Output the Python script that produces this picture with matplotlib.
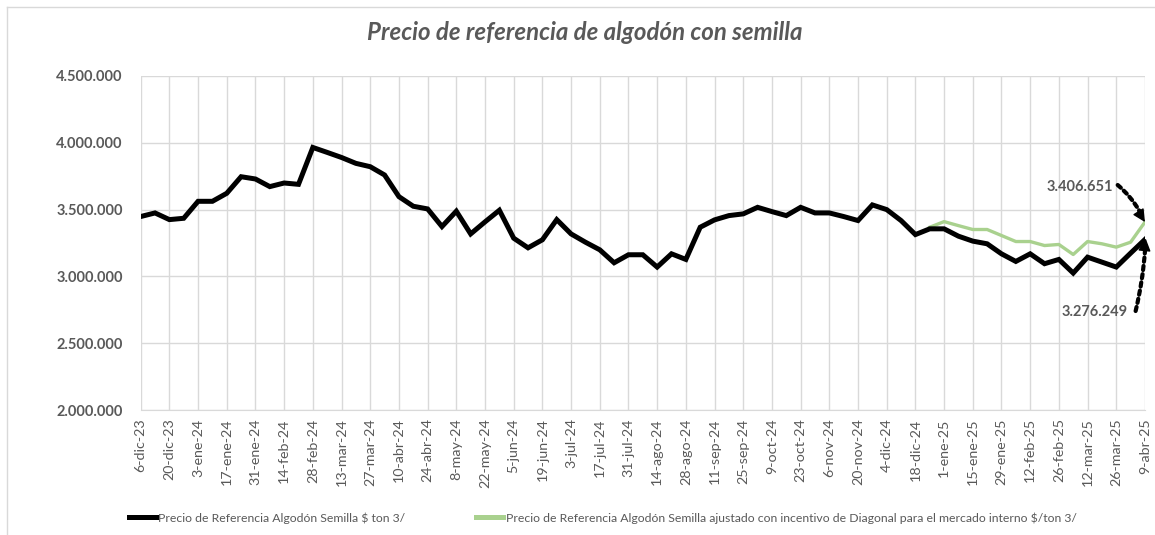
import numpy as np
import matplotlib.pyplot as plt
from matplotlib.lines import Line2D
from matplotlib.ticker import FuncFormatter

plt.rcParams['font.family'] = ['Lato', 'DejaVu Sans']

# weekly reference price, 6-dic-23 .. 9-abr-25 ($/ton)
precio = [3448, 3475, 3425, 3435, 3562, 3562, 3622, 3746, 3729, 3672,
          3699, 3689, 3965, 3928, 3890, 3846, 3821, 3759, 3597, 3525,
          3505, 3373, 3488, 3318, 3408, 3495, 3286, 3214, 3274, 3425,
          3318, 3256, 3199, 3102, 3162, 3162, 3070, 3169, 3127, 3368,
          3423, 3455, 3468, 3517, 3485, 3455, 3517, 3475, 3475, 3448,
          3418, 3535, 3500, 3418, 3313, 3356, 3356, 3301, 3264, 3244,
          3169, 3112, 3169, 3095, 3127, 3025, 3144, 3107, 3070, 3174,
          3276.249]
precio = np.array(precio) * 1000

# adjusted price with Diagonal incentive, starts at week 55
ajustado_inicio = 55
ajustado = [3368, 3410, 3380, 3351, 3351, 3306, 3261, 3261, 3231, 3239,
            3164, 3261, 3244, 3219, 3256, 3406.651]
ajustado = np.array(ajustado) * 1000

etiquetas = ['6-dic-23', '20-dic-23', '3-ene-24', '17-ene-24', '31-ene-24',
             '14-feb-24', '28-feb-24', '13-mar-24', '27-mar-24', '10-abr-24',
             '24-abr-24', '8-may-24', '22-may-24', '5-jun-24', '19-jun-24',
             '3-jul-24', '17-jul-24', '31-jul-24', '14-ago-24', '28-ago-24',
             '11-sep-24', '25-sep-24', '9-oct-24', '23-oct-24', '6-nov-24',
             '20-nov-24', '4-dic-24', '18-dic-24', '1-ene-25', '15-ene-25',
             '29-ene-25', '12-feb-25', '26-feb-25', '12-mar-25', '26-mar-25',
             '9-abr-25']

gris = '#595959'
verde = '#a9d18e'

def miles(v, p=None):
    return f'{v:,.0f}'.replace(',', '.')

def flecha(ax, desde, hasta, rad, punta):
    # dotted shaft + solid head
    ax.annotate('', xy=hasta, xytext=desde, annotation_clip=False,
                arrowprops=dict(arrowstyle='-', lw=3, ls=(0, (1, 1)),
                                color='black', shrinkA=0, shrinkB=8,
                                connectionstyle=f'arc3,rad={rad}'))
    ax.annotate('', xy=hasta, xytext=punta, textcoords='offset points',
                annotation_clip=False,
                arrowprops=dict(arrowstyle='-|>', lw=1, color='black',
                                mutation_scale=19, shrinkA=0, shrinkB=0))

fig = plt.figure(figsize=(11.55, 5.35), dpi=100)
ax = fig.add_axes([0.1218, 0.2336, 0.8695, 0.6244])

x = np.arange(len(precio))
x_aj = np.arange(ajustado_inicio, ajustado_inicio + len(ajustado))
ax.plot(x, precio, color='black', lw=3.6, solid_joinstyle='miter', zorder=3)
ax.plot(x_aj, ajustado, color=verde, lw=2.4, zorder=2)

ax.set_xlim(0, len(precio) - 1)
ax.set_ylim(2000000, 4500000)
ax.set_yticks(np.arange(2000000, 4500001, 500000))
ax.yaxis.set_major_formatter(FuncFormatter(miles))
ax.set_xticks(x[::2])
ax.set_xticklabels(etiquetas, rotation=90)

ax.grid(True, color='#d9d9d9', lw=1)
ax.set_axisbelow(True)
for s in ['top', 'right', 'left']:
    ax.spines[s].set_visible(False)
ax.spines['bottom'].set_color('#d9d9d9')
ax.tick_params(length=0, colors=gris)
ax.tick_params(axis='x', pad=6)
ax.tick_params(axis='y', pad=13)
for t in ax.get_yticklabels():
    t.set_fontweight('bold')
    t.set_fontsize(10.5)
for t in ax.get_xticklabels():
    t.set_fontsize(10.3)

fig.text(0.506, 0.94, 'Precio de referencia de algodón con semilla', fontsize=17.3,
         fontweight='bold', style='italic', color=gris, ha='center', va='center')

# callouts for the last values
n = len(precio) - 1
ax.text(67.75, 3669000, miles(ajustado[-1]), ha='right', va='center',
        fontsize=10.5, fontweight='bold', color=gris)
flecha(ax, (68.1, 3684000), (n, ajustado[-1]), -0.12, (-5, 8))
ax.text(68.8, 2733000, miles(precio[-1]), ha='right', va='center',
        fontsize=10.5, fontweight='bold', color=gris)
flecha(ax, (69.35, 2741000), (n + 0.05, precio[-1] + 8000), 0.05, (-1, -10))

handles = [Line2D([], [], color='black', lw=3.6),
           Line2D([], [], color=verde, lw=3.6)]
nombres = ['Precio de Referencia Algodón Semilla $ ton 3/',
           'Precio de Referencia Algodón Semilla ajustado con incentivo de Diagonal para el mercado interno $/ton 3/']
leg = fig.legend(handles, nombres, loc='center', bbox_to_anchor=(0.522, 0.032),
                 ncol=2, frameon=False, fontsize=8.8, handlelength=2.2,
                 handletextpad=0.2, columnspacing=5.8)
for t in leg.get_texts():
    t.set_color(gris)

# chart area border
fig.add_artist(Line2D([0.006, 0.006], [0, 0.987], color='#d9d9d9', lw=1))
fig.add_artist(Line2D([0.006, 1], [0.987, 0.987], color='#d9d9d9', lw=1))

fig.savefig('out.png', dpi=100)
